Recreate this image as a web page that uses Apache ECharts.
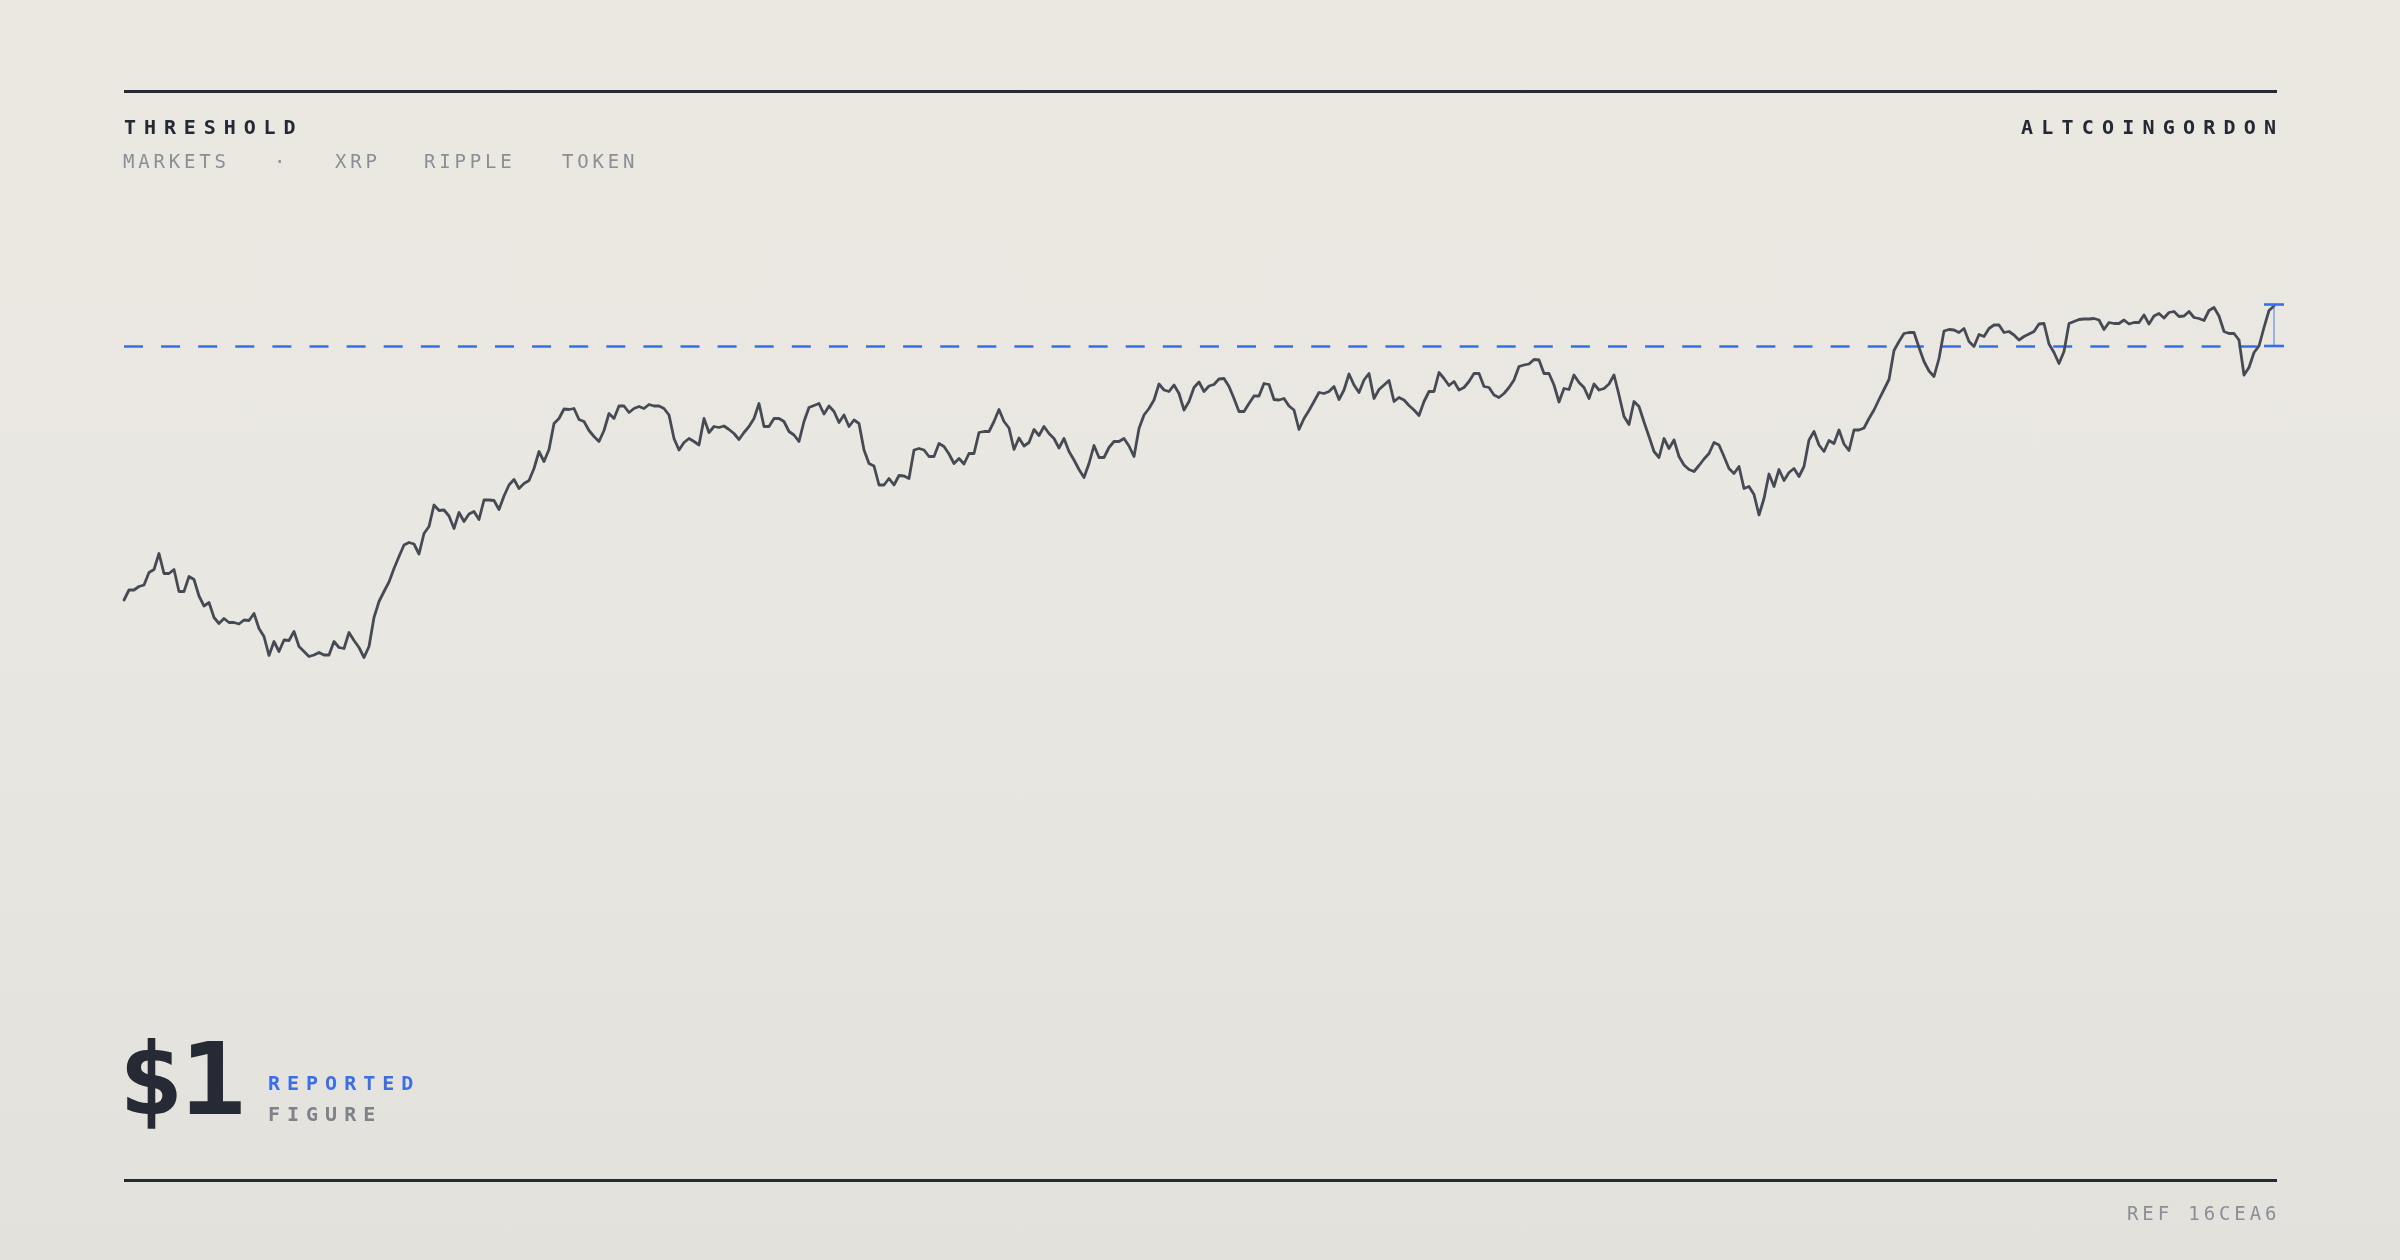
<!DOCTYPE html>
<html>
<head>
<meta charset="utf-8">
<script src="https://cdn.jsdelivr.net/npm/echarts@6/dist/echarts.min.js"></script>
<style>
  html, body { margin: 0; padding: 0; }
  body {
    width: 2400px; height: 1260px; overflow: hidden; position: relative;
    background: linear-gradient(180deg, #ebe8e2 0%, #e9e7e1 50%, #e2e1dc 100%);
    font-family: "DejaVu Sans Mono", monospace;
  }
  #chart { position: absolute; left: 0; top: 0; width: 2400px; height: 1260px; }
  .t { position: absolute; white-space: pre; line-height: 1; }
  .rule { position: absolute; left: 124px; width: 2153px; height: 3px; background: #262a35; }
  .sub { top: 152px; font-size: 19px; letter-spacing: 3.8px; color: #8b8e95; }
</style>
</head>
<body>
<div id="chart"></div>

<div class="rule" style="top:90px"></div>
<div class="rule" style="top:1179px"></div>

<div class="t" style="left:124px; top:117px; font-size:20px; font-weight:bold; letter-spacing:7.9px; color:#252934;">THRESHOLD</div>
<div class="t" style="left:2021px; top:117px; font-size:20px; font-weight:bold; letter-spacing:8.2px; color:#252934;">ALTCOINGORDON</div>

<div class="t sub" style="left:123px;">MARKETS</div>
<div class="t sub" style="left:274px;">·</div>
<div class="t sub" style="left:335px;">XRP</div>
<div class="t sub" style="left:424px;">RIPPLE</div>
<div class="t sub" style="left:562px;">TOKEN</div>

<div class="t" style="left:118px; top:1030px; font-size:100px; font-weight:bold; letter-spacing:-4px; color:#262a35; transform:scaleX(1.1); transform-origin:0 0;">$1</div>
<div class="t" style="left:268px; top:1073px; font-size:20px; font-weight:bold; letter-spacing:7px; color:#3b6fe3;">REPORTED</div>
<div class="t" style="left:268px; top:1104px; font-size:20px; font-weight:bold; letter-spacing:7px; color:#7f828a;">FIGURE</div>

<div class="t" style="left:2127px; top:1204px; font-size:19px; letter-spacing:3.9px; color:#8b8e95;">REF 16CEA6</div>

<script>
// Price series, in segments (USD)
const pricesA = [0.492, 0.512, 0.512, 0.519, 0.522, 0.547, 0.553, 0.585, 0.545, 0.545,
  0.553, 0.509, 0.509, 0.539, 0.533, 0.500, 0.480, 0.487, 0.457, 0.445,
  0.455, 0.447, 0.447, 0.444, 0.452, 0.451, 0.465, 0.435, 0.419, 0.381,
  0.409, 0.389, 0.412, 0.411, 0.429, 0.399, 0.389, 0.379, 0.382, 0.387,
  0.382, 0.382, 0.409, 0.397, 0.395, 0.427, 0.411, 0.397, 0.377, 0.399,
  0.457, 0.489, 0.509, 0.528, 0.555, 0.579, 0.602, 0.607, 0.604, 0.584,
  0.625, 0.639];
const pricesB = [0.682, 0.671, 0.672, 0.660, 0.635, 0.667, 0.649, 0.664, 0.669, 0.653,
  0.692, 0.692, 0.691, 0.673, 0.700, 0.722, 0.733, 0.715, 0.725, 0.731,
  0.755, 0.789, 0.769, 0.793, 0.845, 0.855, 0.874, 0.873, 0.875, 0.853,
  0.849, 0.831, 0.819, 0.809, 0.831, 0.865, 0.855, 0.880, 0.880, 0.867,
  0.875, 0.879, 0.875, 0.883, 0.880, 0.880, 0.875, 0.862, 0.815, 0.792,
  0.807, 0.815, 0.809, 0.802, 0.855, 0.827, 0.839, 0.837, 0.840, 0.833,
  0.825, 0.813];
const pricesC = [0.827, 0.839, 0.855, 0.885, 0.839, 0.839, 0.855, 0.855, 0.849, 0.829,
  0.822, 0.809, 0.849, 0.877, 0.881, 0.885, 0.864, 0.880, 0.869, 0.847,
  0.862, 0.839, 0.852, 0.845, 0.792, 0.765, 0.760, 0.722, 0.722, 0.735,
  0.722, 0.741, 0.740, 0.735, 0.792, 0.795, 0.792, 0.779, 0.779, 0.805,
  0.799, 0.784, 0.765, 0.775, 0.764, 0.785, 0.785, 0.827, 0.829, 0.829,
  0.849, 0.873, 0.849, 0.836, 0.793, 0.816, 0.800, 0.807, 0.833, 0.821,
  0.839, 0.825];
const pricesD = [0.815, 0.796, 0.815, 0.789, 0.772, 0.753, 0.737, 0.765, 0.801, 0.777,
  0.777, 0.797, 0.809, 0.809, 0.815, 0.800, 0.779, 0.835, 0.862, 0.875,
  0.892, 0.924, 0.912, 0.909, 0.922, 0.905, 0.872, 0.889, 0.917, 0.928,
  0.909, 0.920, 0.923, 0.934, 0.935, 0.919, 0.895, 0.869, 0.869, 0.885,
  0.900, 0.900, 0.925, 0.923, 0.893, 0.892, 0.895, 0.880, 0.872, 0.833,
  0.855, 0.871, 0.889, 0.907, 0.905, 0.909, 0.919, 0.893, 0.912, 0.944,
  0.922, 0.907];
const pricesE = [0.932, 0.945, 0.895, 0.913, 0.922, 0.931, 0.889, 0.897, 0.892, 0.881,
  0.872, 0.861, 0.889, 0.909, 0.909, 0.947, 0.935, 0.921, 0.929, 0.912,
  0.917, 0.929, 0.945, 0.945, 0.919, 0.917, 0.902, 0.897, 0.905, 0.917,
  0.932, 0.959, 0.962, 0.964, 0.973, 0.972, 0.945, 0.945, 0.922, 0.888,
  0.915, 0.913, 0.942, 0.927, 0.917, 0.895, 0.924, 0.912, 0.915, 0.924,
  0.942, 0.902, 0.859, 0.843, 0.889, 0.879, 0.848, 0.819, 0.789, 0.777,
  0.815, 0.795];
const pricesF = [0.812, 0.779, 0.762, 0.753, 0.749, 0.761, 0.774, 0.785, 0.807, 0.802,
  0.779, 0.755, 0.745, 0.759, 0.715, 0.719, 0.703, 0.662, 0.695, 0.744,
  0.719, 0.753, 0.731, 0.747, 0.755, 0.739, 0.759, 0.812, 0.829, 0.802,
  0.789, 0.811, 0.805, 0.832, 0.804, 0.791, 0.832, 0.832, 0.836, 0.855,
  0.872, 0.893, 0.913, 0.933, 0.991, 1.009, 1.025, 1.027, 1.027, 0.997,
  0.969, 0.950, 0.939, 0.975, 1.030, 1.033, 1.032, 1.027, 1.035, 1.009,
  0.999, 1.023];
const pricesG = [1.019, 1.035, 1.042, 1.042, 1.027, 1.029, 1.022, 1.012, 1.019, 1.024,
  1.029, 1.044, 1.045, 1.004, 0.987, 0.965, 0.989, 1.045, 1.049, 1.053,
  1.054, 1.054, 1.055, 1.052, 1.033, 1.047, 1.045, 1.045, 1.052, 1.044,
  1.047, 1.047, 1.062, 1.044, 1.060, 1.065, 1.056, 1.067, 1.069, 1.059,
  1.060, 1.069, 1.057, 1.055, 1.051, 1.071, 1.077, 1.060, 1.029, 1.025,
  1.025, 1.012, 0.942, 0.957, 0.987, 1.000, 1.037, 1.071, 1.080];

const THRESHOLD = 1.0;   // the $1 reported figure

const prices = [].concat(pricesA, pricesB, pricesC, pricesD, pricesE, pricesF, pricesG);
const days = prices.map((_, i) => String(i));
const lastIdx = prices.length - 1;
const lastVal = prices[lastIdx];

const chart = echarts.init(document.getElementById('chart'), null, { renderer: 'canvas' });
chart.setOption({
  animation: false,
  backgroundColor: 'transparent',
  grid: { left: 124, right: 126, top: 246, bottom: 414, containLabel: false },
  xAxis: {
    type: 'category', data: days, boundaryGap: false,
    axisLine: { show: false }, axisTick: { show: false }, axisLabel: { show: false }, splitLine: { show: false }
  },
  yAxis: {
    type: 'value', min: 0, max: 1.2,
    axisLine: { show: false }, axisTick: { show: false }, axisLabel: { show: false }, splitLine: { show: false }
  },
  series: [
    {
      type: 'line',
      data: prices,
      showSymbol: false,
      smooth: false,
      lineStyle: { color: '#464a54', width: 2.8, join: 'round', cap: 'round' },
      z: 3,
      markLine: {
        silent: true,
        symbol: 'none',
        label: { show: false },
        lineStyle: { color: '#3570ea', width: 2.6, type: [19, 18.1], opacity: 1 },
        data: [{ yAxis: THRESHOLD }],
        z: 2
      }
    },
    {
      type: 'custom',
      clip: false,
      silent: true,
      z: 4,
      data: [[lastIdx, THRESHOLD, lastVal]],
      renderItem: function (params, api) {
        const base = api.coord([api.value(0), api.value(1)]);
        const top = api.coord([api.value(0), api.value(2)]);
        const x = base[0];
        const half = 10;
        return {
          type: 'group',
          children: [
            { type: 'line', shape: { x1: x, y1: base[1], x2: x, y2: top[1] - 1.5 },
              style: { stroke: 'rgba(53,112,234,0.6)', lineWidth: 1.5 } },
            { type: 'line', shape: { x1: x - half, y1: top[1] - 1.5, x2: x + half, y2: top[1] - 1.5 },
              style: { stroke: '#3570ea', lineWidth: 2.6 } },
            { type: 'line', shape: { x1: x - half, y1: base[1], x2: x + half, y2: base[1] },
              style: { stroke: '#3570ea', lineWidth: 2.6 } }
          ]
        };
      }
    }
  ]
});
</script>
</body>
</html>
